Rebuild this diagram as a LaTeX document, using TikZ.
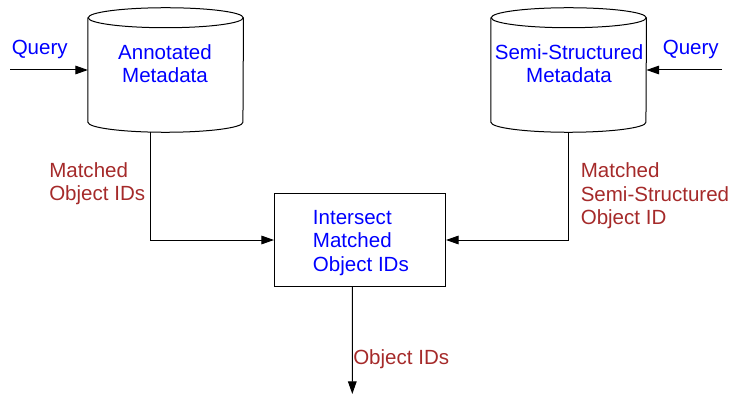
\documentclass[tikz,border=0pt]{standalone}
\usepackage{fontspec}
\setmainfont{Liberation Sans}
\usetikzlibrary{arrows.meta,calc}
\definecolor{lblue}{RGB}{0,0,255}
\definecolor{lbrown}{RGB}{165,42,42}
\begin{document}
\begin{tikzpicture}[x=0.75pt,y=-0.75pt,
  every node/.style={font=\fontsize{15.4}{17.6}\selectfont},
  body/.style={draw=none,minimum width=116.25pt,minimum height=93pt,inner sep=0},
  boxnode/.style={draw,line width=0.75pt,minimum width=128.25pt,minimum height=69.75pt,inner sep=0},
  bluetxt/.style={text=lblue,align=center,inner sep=0},
  redtxt/.style={text=lbrown,align=left,inner sep=0,anchor=west},
  arr/.style={line width=0.75pt,-{Triangle[length=9.5pt,width=6.5pt]}},
  cyl/.style={line width=0.75pt}]
\useasboundingbox (0,0) rectangle (730,395);

% left cylinder
\node[body] (ann) at (165.7,70) {};
\draw[cyl] (ann.north west) ++(0,10) -- ([yshift=7.5pt]ann.south west)
  arc[start angle=180,end angle=360,x radius=58.125pt,y radius=7.5pt]
  -- ([yshift=-7.5pt]ann.north east);
\draw[cyl] ([yshift=-7.5pt]ann.north) ellipse[x radius=58.125pt,y radius=7.5pt];
\node[bluetxt] (annt) at (165,63.5) {Annotated\\Metadata};

% right cylinder
\node[body] (sem) at (568.7,70) {};
\draw[cyl] (sem.north west) ++(0,10) -- ([yshift=7.5pt]sem.south west)
  arc[start angle=180,end angle=360,x radius=58.125pt,y radius=7.5pt]
  -- ([yshift=-7.5pt]sem.north east);
\draw[cyl] ([yshift=-7.5pt]sem.north) ellipse[x radius=58.125pt,y radius=7.5pt];
\node[bluetxt] (semt) at (569,63.5) {Semi-Structured\\Metadata};

% intersect box
\node[boxnode] (box) at (360,240) {};
\node[bluetxt,align=left,anchor=west] (boxt) at (312.7,243) {Intersect\\Matched\\Object IDs};

% queries
\node[bluetxt,anchor=west] (q1) at (11.5,49) {Query};
\coordinate (q1s) at (10,70);
\draw[arr] (q1s) -- (ann.west);
\node[bluetxt,anchor=west] (q2) at (662.5,49) {Query};
\coordinate (q2s) at (722,70);
\draw[arr] (q2s) -- (sem.east);

% connectors to box
\draw[arr] ([xshift=-11.5pt,yshift=0.4pt]ann.south) |- (box.west);
\draw[arr] ([yshift=0pt]sem.south) |- (box.east);
\node[redtxt] (l1) at (49,183.5) {Matched\\Object IDs};
\node[redtxt] (l2) at (580.5,196) {Matched\\Semi-Structured\\Object ID};

% output
\coordinate (out) at (352.3,394);
\draw[arr] ([xshift=-5.8pt]box.south) -- (out);
\node[redtxt] (l3) at (353,359) {Object IDs};
\end{tikzpicture}
\end{document}
